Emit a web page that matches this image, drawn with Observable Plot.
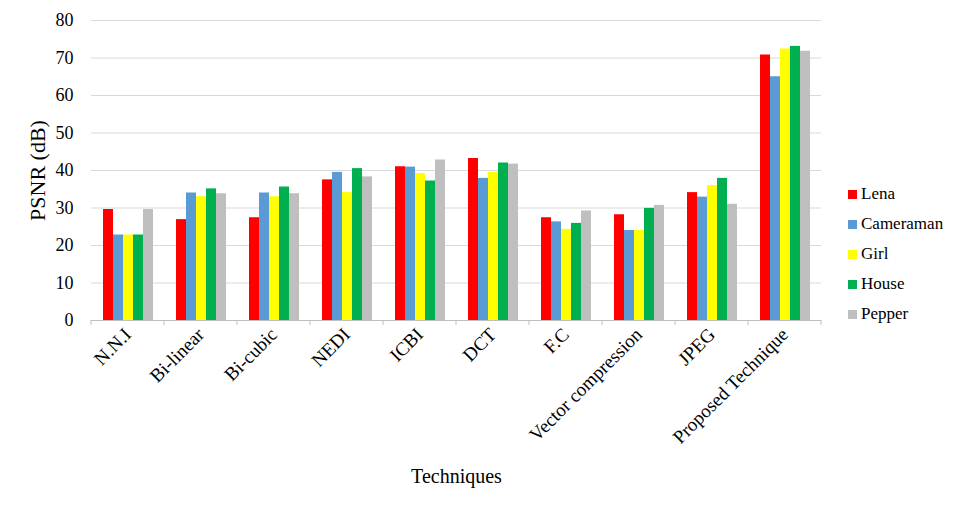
<!DOCTYPE html>
<html><head><meta charset="utf-8">
<script src="https://cdn.jsdelivr.net/npm/d3@7"></script>
<script src="https://cdn.jsdelivr.net/npm/@observablehq/plot@0.6"></script>
<style>
body{margin:0;background:#fff;}
#wrap{position:relative;width:961px;height:510px;font-family:"Liberation Serif","Times New Roman",serif;}
#legend{position:absolute;left:848px;top:179px;font-family:"Liberation Serif","Times New Roman",serif;}
.item{display:flex;align-items:center;height:30px;font-size:17px;color:#000;font-family:"Liberation Serif","Times New Roman",serif;}
.sw{width:9px;height:9px;margin-right:4px;}
</style></head><body><div id="wrap"><div id="legend"></div></div>
<script>
const techniques = ["N.N.I","Bi-linear","Bi-cubic","NEDI","ICBI","DCT","F.C","Vector compression","JPEG","Proposed Technique"];
const images = ["Lena","Cameraman","Girl","House","Pepper"];
const colors = ["#ff0000","#5b9bd5","#ffff00","#00b050","#bfbfbf"];
const lena      = [29.6, 26.9, 27.4, 37.5, 41.0, 43.2, 27.4, 28.2, 34.1, 70.8];
const cameraman = [22.8, 34.0, 34.0, 39.5, 40.9, 37.9, 26.3, 24.0, 32.9, 65.0];
const girl      = [22.8, 33.0, 33.0, 34.1, 39.2, 39.5, 24.3, 24.0, 36.0, 72.4];
const house     = [22.8, 35.1, 35.6, 40.5, 37.2, 42.0, 25.9, 29.9, 37.9, 73.1];
const pepper    = [29.6, 33.8, 33.8, 38.3, 42.8, 41.7, 29.2, 30.7, 31.0, 71.8];
const yTicks = [0,10,20,30,40,50,60,70,80];

const series = [lena, cameraman, girl, house, pepper];
const data = techniques.flatMap((t,i)=>images.map((im,j)=>({technique:t,image:im,value:series[j][i]})));

const plot = Plot.plot({
  width:961, height:510,
  marginLeft:90, marginRight:139, marginTop:20, marginBottom:190,
  style:{fontFamily:"Liberation Serif, Times New Roman, serif", fontSize:"18px", color:"#000", background:"#fff", overflow:"visible"},
  fx:{domain:techniques, padding:0, axis:"bottom", tickSize:0, tickPadding:11, tickRotate:-45,
      label:"Techniques", labelAnchor:"center", labelOffset:162, labelArrow:"none"},
  x:{domain:images, axis:null, paddingInner:0, paddingOuter:0.83},
  y:{domain:[0,80], ticks:yTicks, tickSize:0, tickPadding:18, label:"PSNR (dB)", labelAnchor:"center", labelOffset:62, labelArrow:"none"},
  color:{domain:images, range:colors},
  marks:[
    Plot.ruleY(yTicks.filter(d=>d>0), {stroke:"#d9d9d9", strokeWidth:1}),
    Plot.ruleY([0], {stroke:"#bfbfbf", strokeWidth:1}),
    Plot.barY(data, {fx:"technique", x:"image", y:"value", fill:"image", inset:0})
  ]
});
document.getElementById("wrap").prepend(plot);

const svg = d3.select(plot);
svg.selectAll('[aria-label="y-axis label"] text, [aria-label="y-axis label"]').style("font-size","22px");
svg.selectAll('[aria-label="fx-axis label"] text, [aria-label="fx-axis label"]').style("font-size","20px");
svg.selectAll('[aria-label="fx-axis tick label"] text, [aria-label="fx-axis tick label"]').style("font-size","19px");

// group-boundary tick marks from the fx scale
const fx = plot.scale("fx");
const yS = plot.scale("y");
const step = fx.step ?? fx.bandwidth;
const bounds = techniques.map(t=>fx.apply(t)).concat([fx.apply(techniques[techniques.length-1]) + step]);
const y0 = yS.apply(0);
svg.append("g").selectAll("line").data(bounds).join("line")
  .attr("x1",d=>d).attr("x2",d=>d).attr("y1",y0).attr("y2",y0+5)
  .attr("stroke","#bfbfbf");

const lg = d3.select("#legend");
images.forEach((im,i)=>{
  const it = lg.append("div").attr("class","item");
  it.append("div").attr("class","sw").style("background",colors[i]);
  it.append("span").text(im);
});
</script></body></html>
